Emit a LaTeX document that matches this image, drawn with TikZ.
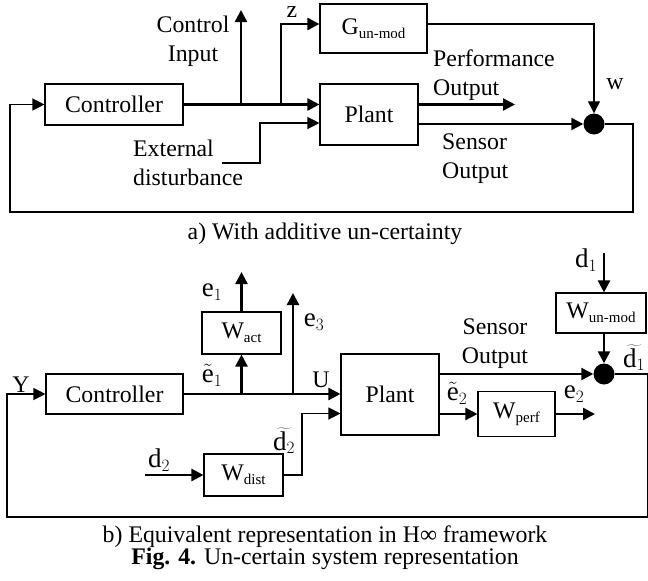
\documentclass[tikz,border=0pt]{standalone}
\usepackage{fontspec}
\setmainfont{Liberation Serif}
\usetikzlibrary{arrows.meta}
\newcommand{\lowsub}[1]{\raisebox{-0.35ex}{\fontsize{15}{15}\selectfont #1}}
\begin{document}
\begin{tikzpicture}[x=1pt,y=-1pt,
  font=\fontsize{23.8}{29}\selectfont,
  box/.style={draw,line width=1.1pt,inner sep=0pt},
  sig/.style={line width=2.4pt,-{Triangle[length=12pt,width=12pt]}},
  sigthin/.style={line width=1.2pt,-{Triangle[length=12pt,width=12pt]}},
  thinline/.style={line width=1.2pt},
  sum/.style={circle,fill=black,minimum size=21pt,inner sep=0pt},
  lbl/.style={inner sep=0pt},
  mlbl/.style={inner sep=0pt,font=\fontsize{27}{30}\selectfont},
]
\useasboundingbox (0,0) rectangle (648,581);
% ---------------- part a ----------------
\node[box,minimum width=138pt,minimum height=41pt] (ca) at (114,104.5) {Controller};
\node[box,minimum width=107pt,minimum height=49pt] (ga) at (373.5,28.5) {G\lowsub{un-mod}};
\node[box,minimum width=98pt,minimum height=61pt] (pa) at (369,114.5) {Plant};
\node[sum] (sa) at (594,124) {};
\coordinate (ja1) at (241,104.5);
\coordinate (ja2) at (281,104.5);
\coordinate (ciout) at (241,10);
\coordinate (eda) at (222,163);
\coordinate (edb) at (260,163);
\coordinate (poa) at (515,104.5);
\coordinate (fa1) at (633,124);
\coordinate (fa2) at (10,212);
\draw[sig] (ca.east) -- (ca.east -| pa.west);
\draw[sig] (ja1) -- (ciout);
\draw[sig] (ja2) |- ([yshift=4.5pt]ga.west);
\draw[sigthin] (eda) -- (edb) |- ([yshift=-8.5pt]pa.west);
\draw[sig] ([yshift=10pt]pa.east) -- (poa);
\draw[sig] ([yshift=-9.5pt]pa.east) -- (sa.west);
\draw[sigthin] ([yshift=4.5pt]ga.east) -| (sa.north);
\draw[sigthin] (sa.east) -- (fa1) |- (fa2) |- (ca.west);
\node[lbl,align=center] (tci) at (193,41) {Control\\Input};
\node[lbl] (tz) at (292,12) {z};
\node[lbl,align=left,anchor=west] (ted) at (133,163) {External\\disturbance};
\node[lbl,align=left,anchor=west] (tpo) at (433,75) {Performance\\Output};
\node[lbl,align=left,anchor=west] (tso) at (442,159) {Sensor\\Output};
\node[lbl] (tw) at (615,84) {w};
\node[lbl] (capa) at (325,234) {a) With additive un-certainty};
% ---------------- part b ----------------
\node[box,minimum width=137pt,minimum height=40pt] (cb) at (114.5,394) {Controller};
\node[box,minimum width=79pt,minimum height=42pt] (wact) at (241.5,333) {W\lowsub{act}};
\node[box,minimum width=79pt,minimum height=42pt] (wdist) at (243.5,475) {W\lowsub{dist}};
\node[box,minimum width=98pt,minimum height=81pt] (pb) at (390,394.5) {Plant};
\node[box,minimum width=77pt,minimum height=45pt] (wperf) at (516.5,414) {W\lowsub{perf}};
\node[box,minimum width=90pt,minimum height=40pt] (wun) at (601,313) {W\lowsub{un-mod}};
\node[sum] (sb) at (604,374) {};
\coordinate (jb1) at (241.5,394);
\coordinate (jb2) at (293,394);
\coordinate (e1o) at (241.5,272);
\coordinate (e3o) at (293,293);
\coordinate (d2i) at (145,475);
\coordinate (d2b) at (302,475);
\coordinate (e2o) at (595,414);
\coordinate (d1i) at (604,253);
\coordinate (fb1) at (648,374);
\coordinate (fb2) at (648,517);
\coordinate (fb3) at (7,517);
\draw[sig] (cb.east) -- (cb.east -| pb.west);
\draw[sig] (jb1) -- (wact.south);
\draw[sig] (wact.north) -- (e1o);
\draw[sig] (jb2) -- (e3o);
\draw[sig] (d2i) -- (wdist.west);
\draw[sigthin] (wdist.east) -- (d2b) |- ([yshift=-19pt]pb.west);
\draw[sig] ([yshift=20.5pt]pb.east) -- (sb.west);
\draw[sig] (pb.east |- wperf.west) -- (wperf.west);
\draw[sig] (wperf.east) -- (e2o);
\draw[sig] (d1i) -- (d1i |- wun.north);
\draw[sig] (sb.north |- wun.south) -- (sb.north);
\draw[thinline] (sb.east) -- (fb1) -- (fb2);
\draw[sigthin] (fb2) -- (fb3) |- (cb.west);
\node[lbl] (tY) at (21,385) {Y};
\node[mlbl] (te1) at (212,292) {$\mathrm{e}_1$};
\node[mlbl] (te1t) at (212,375) {$\tilde{\mathrm{e}}_1$};
\node[mlbl] (te3) at (314,322) {$\mathrm{e}_3$};
\node[lbl] (tU) at (321,380) {U};
\node[mlbl] (td2t) at (284,441) {$\widetilde{\mathrm{d}_2}$};
\node[mlbl] (td2) at (159,460) {$\mathrm{d}_2$};
\node[lbl,align=center] (tso2) at (495,344) {Sensor\\Output};
\node[mlbl] (te2t) at (457,393) {$\tilde{\mathrm{e}}_2$};
\node[mlbl] (te2) at (574,394) {$\mathrm{e}_2$};
\node[mlbl] (td1) at (586,260) {$\mathrm{d}_1$};
\node[mlbl] (td1t) at (634,358) {$\widetilde{\mathrm{d}_1}$};
\node[lbl] (capb) at (325,537) {b) Equivalent representation in H∞ framework};
\node[lbl] (capf) at (325,559) {\textbf{Fig. 4.} Un-certain system representation};
\end{tikzpicture}
\end{document}
